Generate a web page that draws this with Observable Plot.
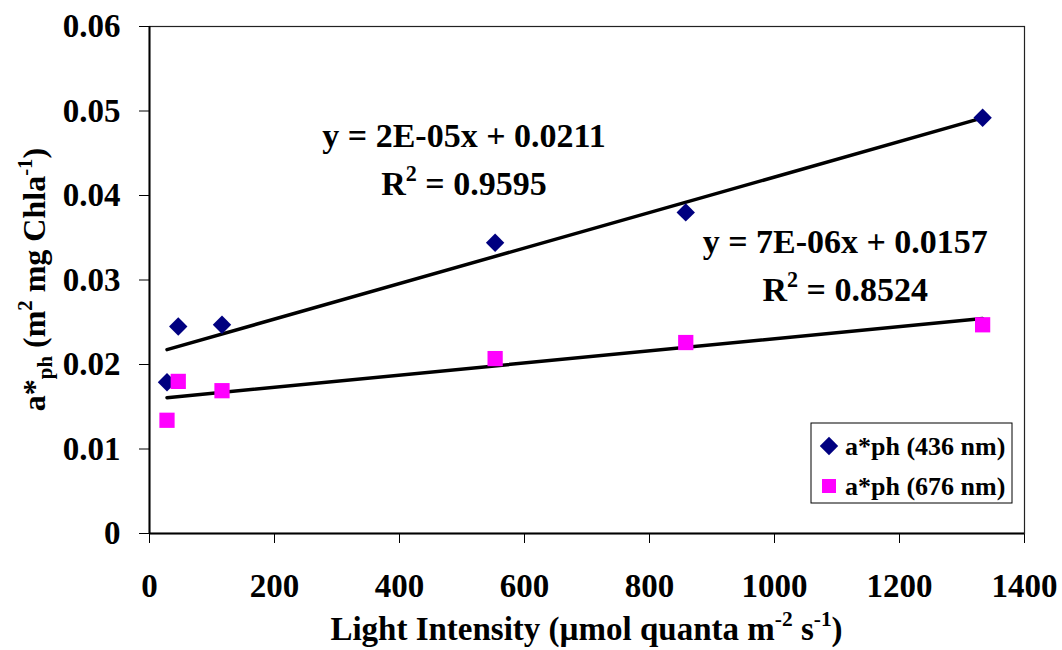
<!DOCTYPE html>
<html><head><meta charset="utf-8">
<script src="https://cdn.jsdelivr.net/npm/d3@7"></script>
<script src="https://cdn.jsdelivr.net/npm/@observablehq/plot@0.6"></script>
<style>
body{margin:0;background:#fff;}
#chart{width:1062px;height:650px;}
</style></head><body><div id="chart"></div>
<script>
// ---- data ----
const lightIntensity = [28, 46, 116, 553, 858, 1333];
const aph436 = [0.0179, 0.0245, 0.0247, 0.0344, 0.0380, 0.0492];
const aph676 = [0.0134, 0.0180, 0.0169, 0.0207, 0.0226, 0.0247];
const seriesNames = ["a*ph (436 nm)", "a*ph (676 nm)"];
const equationTexts = ["y = 2E-05x + 0.0211", "y = 7E-06x + 0.0157"];
const r2Texts = ["0.9595", "0.8524"];
const xTicks = [0, 200, 400, 600, 800, 1000, 1200, 1400];
const xTickLabels = ["0", "200", "400", "600", "800", "1000", "1200", "1400"];
const yTicks = [0, 0.01, 0.02, 0.03, 0.04, 0.05, 0.06];
const yTickLabels = ["0", "0.01", "0.02", "0.03", "0.04", "0.05", "0.06"];

// ---- drawing ----
const colors = ["#000080", "#FF00FF"];
const font = "'Liberation Serif','Times New Roman',serif";
const rows436 = lightIntensity.map((x, i) => ({x, y: aph436[i]}));
const rows676 = lightIntensity.map((x, i) => ({x, y: aph676[i]}));
const rDiamond = 8.3, rSquare = 8.6;

const chart = Plot.plot({
  width: 1062, height: 650,
  marginLeft: 149, marginRight: 38, marginTop: 26, marginBottom: 117,
  style: {fontFamily: font, fontWeight: "bold", fontSize: "33px", color: "black", background: "white"},
  x: {domain: [0, 1400], ticks: xTicks, tickFormat: d => xTickLabels[xTicks.indexOf(d)], tickSize: 10, tickPadding: 30, label: null},
  y: {domain: [0, 0.06], ticks: yTicks, tickFormat: d => yTickLabels[yTicks.indexOf(d)], tickSize: 10, tickPadding: 19, label: null},
  marks: [
    Plot.frame({stroke: "#222", strokeWidth: 1.2}),
    Plot.linearRegressionY(rows436, {x: "x", y: "y", ci: 0, stroke: "black", strokeWidth: 3.5}),
    Plot.linearRegressionY(rows676, {x: "x", y: "y", ci: 0, stroke: "black", strokeWidth: 3.5}),
    Plot.dot(rows436, {x: "x", y: "y", symbol: "diamond2", fill: colors[0], r: rDiamond}),
    Plot.dot(rows676, {x: "x", y: "y", symbol: "square", fill: colors[1], r: rSquare}),
    Plot.ruleX([0], {stroke: "black", strokeWidth: 2}),
    Plot.ruleY([0], {stroke: "black", strokeWidth: 2})
  ]
});
document.getElementById("chart").appendChild(chart);

const svg = d3.select(chart);
const sx = chart.scale("x"), sy = chart.scale("y");

function richText(g, parts, size) {
  // parts: [text, mode] mode: 0 normal, 1 sup, -1 sub
  let shift = 0;
  for (const [t, mode] of parts) {
    const target = mode === 1 ? -0.42 * size : mode === -1 ? 0.22 * size : 0;
    g.append("tspan")
      .attr("dy", target - shift)
      .attr("font-size", mode ? size * 0.65 : size)
      .text(t);
    shift = target;
  }
}

// equations
const eqAnchors = [[504, 0.0457], [1114, 0.0331]];
equationTexts.forEach((t, i) => {
  const px = sx.apply(eqAnchors[i][0]), py = sy.apply(eqAnchors[i][1]);
  svg.append("text").attr("x", px).attr("y", py).attr("text-anchor", "middle")
    .attr("font-family", font).attr("font-weight", "bold").attr("font-size", 34).text(t);
  const r = svg.append("text").attr("x", px).attr("y", py + 48).attr("text-anchor", "middle")
    .attr("font-family", font).attr("font-weight", "bold");
  richText(r, [["R", 0], ["2", 1], [" = " + r2Texts[i], 0]], 34);
});

// axis titles
const xt = svg.append("text")
  .attr("x", (sx.apply(0) + sx.apply(1400)) / 2).attr("y", 640)
  .attr("text-anchor", "middle").attr("font-family", font).attr("font-weight", "bold");
richText(xt, [["Light Intensity (µmol quanta m", 0], ["-2", 1], [" s", 0], ["-1", 1], [")", 0]], 33);

const yt = svg.append("text")
  .attr("transform", `translate(45,${(sy.apply(0) + sy.apply(0.06)) / 2}) rotate(-90)`)
  .attr("text-anchor", "middle").attr("font-family", font).attr("font-weight", "bold");
richText(yt, [["a*", 0], ["ph", -1], [" (m", 0], ["2", 1], [" mg Chla", 0], ["-1", 1], [")", 0]], 32);

// legend
const lg = svg.append("g").attr("transform", "translate(811,423)");
lg.append("rect").attr("width", 201).attr("height", 80).attr("fill", "white").attr("stroke", "black").attr("stroke-width", 1);
const symbols = [d3.symbolDiamond2, d3.symbolSquare];
const radii = [rDiamond, rSquare * 0.92];
seriesNames.forEach((name, i) => {
  const cy = 23 + i * 40;
  lg.append("path").attr("transform", `translate(18,${cy})`)
    .attr("d", d3.symbol(symbols[i], Math.PI * radii[i] * radii[i])())
    .attr("fill", colors[i]);
  lg.append("text").attr("x", 34).attr("y", cy + 9).attr("text-anchor", "start")
    .attr("font-family", font).attr("font-weight", "bold").attr("font-size", 26).text(name);
});
</script></body></html>
